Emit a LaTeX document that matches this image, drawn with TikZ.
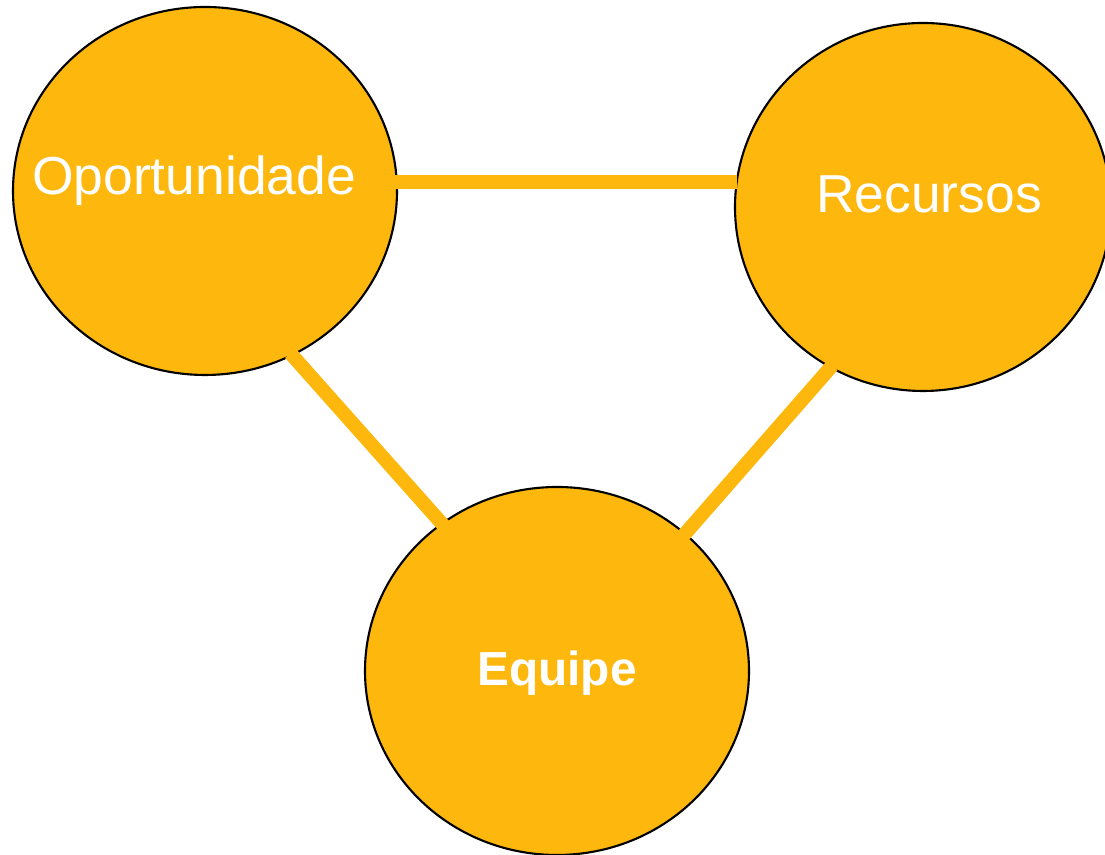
\documentclass[tikz,border=0pt]{standalone}
\usepackage{fontspec}
\setmainfont{Liberation Sans}
\usetikzlibrary{shapes.geometric}
\definecolor{gelb}{RGB}{253,183,13}
\begin{document}
\begin{tikzpicture}[kreis/.style={ellipse,draw,fill=gelb,line width=0.6pt,inner sep=0pt,minimum height=3.68cm},
						band/.style={draw=gelb,line width=0.14cm,shorten <=-1pt,shorten >=-1pt},
						txt/.style={text=white,anchor=base,font=\fontsize{15.2}{18}\selectfont}]
						\useasboundingbox (0,0) rectangle (11.05,8.55);
						\node[kreis,minimum width=3.84cm] (opo) at (2.05,6.64) {};
						\node[kreis,minimum width=3.76cm] (rec) at (9.23,6.48) {};
						\node[kreis,minimum width=3.84cm] (equ) at (5.57,1.84) {};
						\draw[band] ([yshift=0.085cm]opo.east)--([yshift=0.085cm]opo.east -| rec.west);
						\draw[band] (opo.-62)--(equ.128);
						\draw[band] (rec.240)--(equ.47);
						\node[txt] at (1.94,6.60) {Oportunidade};
						\node[txt] at (9.29,6.42) {Recursos};
						\node[txt,font=\fontsize{13.6}{16}\selectfont\bfseries] at (5.57,1.69) {Equipe};
					\end{tikzpicture}
\end{document}
